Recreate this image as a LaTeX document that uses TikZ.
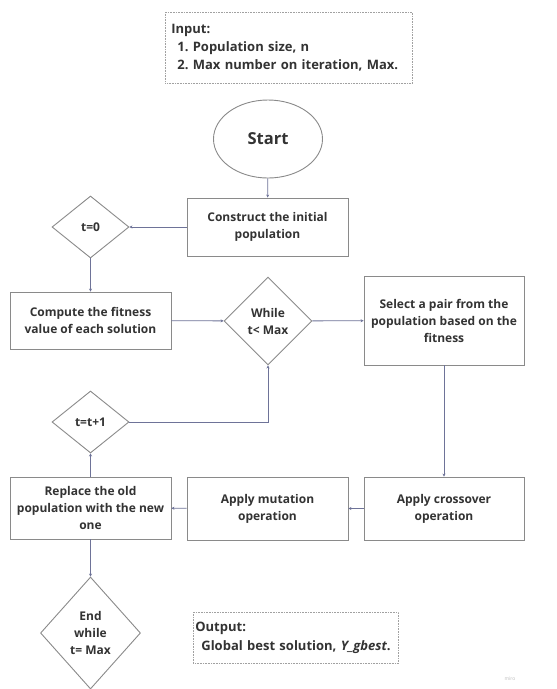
\documentclass[tikz,border=0pt]{standalone}
\usepackage{fontspec}
\setmainfont{Open Sans}
\frenchspacing
\usetikzlibrary{shapes.geometric,arrows.meta}
\definecolor{txt}{HTML}{333333}
\definecolor{bord}{HTML}{8A8A8A}
\definecolor{conn}{HTML}{6E7398}
\begin{document}
\begin{tikzpicture}[x=1pt,y=-1pt,
  every node/.style={text=txt,font=\fontsize{12}{17}\selectfont\bfseries,inner sep=0pt},
  box/.style={draw=bord,line width=0.9pt,rectangle,align=center},
  dia/.style={draw=bord,line width=0.9pt,diamond,align=center},
  note/.style={draw=bord!80,line width=0.7pt,dash pattern=on 0.8pt off 0.8pt,rectangle,align=left,anchor=north west,inner xsep=7pt},
  conn/.style={draw=conn,line width=0.8pt,-{Stealth[length=3pt,width=3pt]}}]
\useasboundingbox (0,0) rectangle (557,689);
\fill[white] (0,0) rectangle (557,689);

\node[note,minimum width=247pt,minimum height=71pt,text width=235pt,inner xsep=6pt,font=\fontsize{13}{18}\selectfont\bfseries] (inp) at (165,12)
  {Input:\\\hspace*{6pt}1. Population size, n\\\hspace*{6pt}2. Max number on iteration, Max.};

\node[draw=bord,line width=0.9pt,ellipse,minimum width=109pt,minimum height=78pt,font=\fontsize{16.5}{18}\selectfont\bfseries] (start) at (268,139) {Start};
\node[box,minimum width=161pt,minimum height=58pt] (cons) at (267.5,227) {Construct the initial\\population};
\node[dia,minimum width=77pt,minimum height=62pt] (t0) at (90.5,227) {t=0};
\node[box,minimum width=161pt,minimum height=57pt] (comp) at (90.5,320.5) {Compute the fitness\\value of each solution};
\node[dia,minimum width=88pt,minimum height=88pt] (while) at (268,321) {While\\t< Max};
\node[box,minimum width=160pt,minimum height=89pt] (sel) at (444,320.5) {Select a pair from the\\population based on the\\fitness};
\node[dia,minimum width=77pt,minimum height=62pt] (tinc) at (90.5,422) {t=t+1};
\node[box,minimum width=160pt,minimum height=63pt] (cross) at (444,508.5) {Apply crossover\\operation};
\node[box,minimum width=161pt,minimum height=63pt] (mut) at (267.5,508.5) {Apply mutation\\operation};
\node[box,minimum width=161pt,minimum height=62pt] (rep) at (90.5,508) {Replace the old\\population with the new\\one};
\node[dia,minimum width=100pt,minimum height=112pt] (end) at (90.5,633) {End\\while\\t= Max};

\node[note,minimum width=205pt,minimum height=51pt,text width=201pt,inner xsep=2pt,font=\fontsize{13}{19}\selectfont\bfseries] (out) at (193,612)
  {Output:\\\hspace*{6pt}Global best solution, \textit{Y\_gbest}.};

\node[text=black!25,font=\fontsize{5}{6}\selectfont] (miro) at (510,679) {miro};

\draw[conn] (start) -- (cons);
\draw[conn] (cons) -- (t0);
\draw[conn] (t0) -- (comp);
\draw[conn] (comp) -- (while);
\draw[conn] (while) -- (sel);
\draw[conn] (sel) -- (cross);
\draw[conn] (cross) -- (mut);
\draw[conn] (mut) -- (rep);
\draw[conn] (rep) -- (tinc);
\draw[conn] (tinc.east) -| (while.south);
\draw[conn] (rep) -- (end);
\end{tikzpicture}
\end{document}
